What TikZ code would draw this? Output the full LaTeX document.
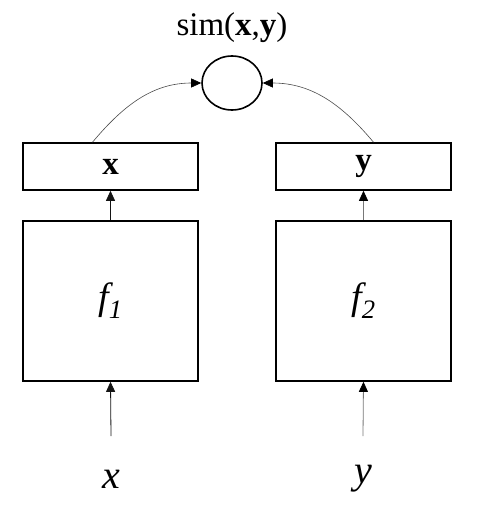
\documentclass[tikz,border=0pt]{standalone}
\usepackage{fontspec}
\setmainfont{Liberation Serif}
\usepackage{tikz}
\usetikzlibrary{shapes.geometric, arrows.meta, positioning}
\definecolor{mydark}{RGB}{20,20,20}
\definecolor{mygray}{RGB}{120,120,120}
\tikzset{
  netbox/.style={rectangle, draw=black, fill=white, line width=1.6pt,
    minimum width=175pt, minimum height=160pt, inner sep=0pt,
    font=\fontsize{38}{40}\selectfont},
  vecbox/.style={rectangle, draw=black, fill=white, line width=1.6pt,
    minimum width=175pt, minimum height=47pt, inner sep=0pt,
    font=\fontsize{33}{35}\selectfont\bfseries},
  simnode/.style={ellipse, draw=black, line width=1.6pt,
    minimum width=60pt, minimum height=54pt, inner sep=0pt},
  inlabel/.style={font=\fontsize{40}{42}\selectfont\itshape, inner sep=0pt},
  flowarrow/.style={-{Triangle[length=10pt,width=9pt]}, line width=0.8pt, draw=mydark},
  grayarrow/.style={-{Triangle[length=10pt,width=9pt,color=black]}, line width=0.8pt, draw=mygray},
  curvearrow/.style={-{Triangle[length=10pt,width=9pt,color=black]}, line width=0.6pt, draw=black!70}
}

\begin{document}
\begin{tikzpicture}[x=1pt, y=-1pt]
  \useasboundingbox (0,0) rectangle (479,509);
  \node[simnode] (cmp) at (232,83) {};
  \node[font=\fontsize{33}{35}\selectfont] (simlbl) at (232,28) {sim(\textbf{x},\textbf{y})};

  \node[vecbox] (vx) at (110.5,166.5) {x};
  \node[vecbox] (vy) at (363.5,166.5) {y};
  \node[netbox] (f1) at (110.5,301) {\textit{f\textsubscript{1}}};
  \node[netbox] (f2) at (363.5,301) {\textit{f\textsubscript{2}}};

  \node[inlabel] (inx) at (111,479) {x};
  \node[inlabel] (iny) at (363,479) {y};
  \coordinate (xin) at (111,436);
  \coordinate (yin) at (363,436);

  \draw[flowarrow] (xin) -- (f1.south);
  \draw[grayarrow] (yin) -- (f2.south);
  \draw[flowarrow] (f1.north) -- (vx.south);
  \draw[grayarrow] (f2.north) -- (vy.south);

  \draw[curvearrow] ([xshift=-18pt]vx.north) to[out=50, in=180] (cmp.west);
  \draw[curvearrow] ([xshift=10pt]vy.north) to[out=130, in=0] (cmp.east);
\end{tikzpicture}
\end{document}
